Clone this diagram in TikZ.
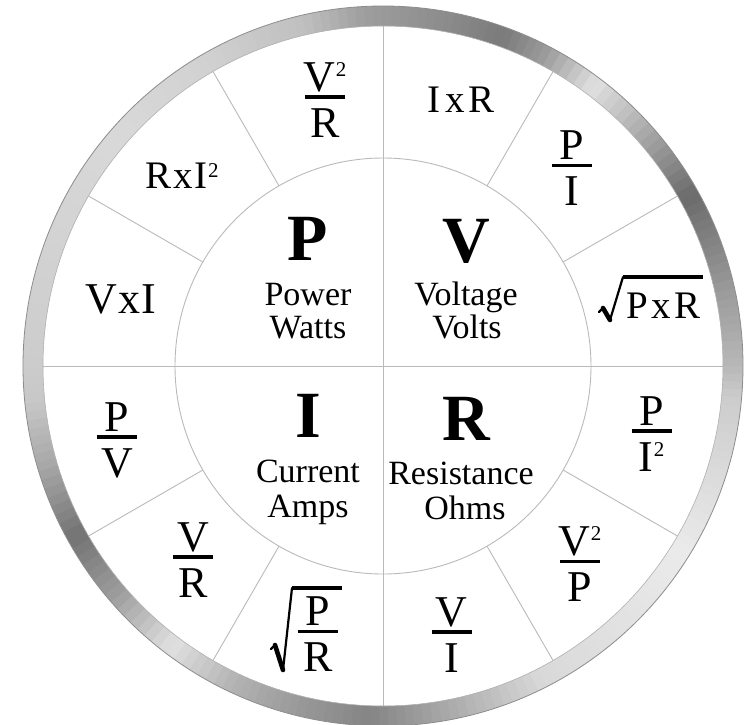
\documentclass[tikz,border=0pt]{standalone}
\usepackage{fontspec}
\setmainfont{Liberation Serif}
\newcommand\suptwo[1]{\kern0.5pt\raisebox{#1}{\fontsize{21}{21}\selectfont 2}}
\tikzset{
  big/.style={font=\fontsize{66}{66}\selectfont\bfseries, anchor=base, inner sep=0pt},
  lab/.style={font=\fontsize{34}{34}\selectfont, anchor=base, inner sep=0pt},
  frm/.style={font=\fontsize{39}{39}\selectfont, anchor=base, inner sep=0pt},
  fnum/.style={font=\fontsize{44}{44}\selectfont, anchor=base, inner sep=0pt},
  fbar/.style={line width=3.6pt},
  spoke/.style={draw=black!27, line width=0.9pt},
  radthin/.style={line width=2.2pt, line cap=round, line join=round},
  radthick/.style={line width=4.6pt, line cap=round},
}
\newcommand\ffrac[5]{%
  \node[fnum] (#1n) at (#2,#3+6) {#4};
  \coordinate (#1l) at (#2-20,#3);
  \coordinate (#1r) at (#2+20,#3);
  \draw[fbar] (#1l) -- (#1r);
  \node[fnum] (#1d) at (#2,#3-40) {#5};}
\begin{document}
\begin{tikzpicture}[x=1pt,y=1pt]
\fill[white] (-383,-358) rectangle (369,366);
\useasboundingbox (-383,-358) rectangle (369,366);
% metallic ring
\foreach \a/\ga/\b/\gb in {-180/.80/-174/.78, -174/.78/-163/.65, -163/.65/-151/.45,
  -151/.45/-139/.62, -139/.62/-127/.88, -127/.88/-115/.70, -115/.70/-104/.60,
  -104/.60/-92/.52, -92/.52/-85/.60, -85/.60/-63/.85, -63/.85/-32/.92,
  -32/.92/-5/.80, -5/.80/0/.72, 0/.72/11/.62, 11/.62/29/.42, 29/.42/41/.65,
  41/.65/53/.88, 53/.88/62/.62, 62/.62/70/.48, 70/.48/80/.55, 80/.55/93/.62,
  93/.62/103/.75, 103/.75/120/.82, 120/.82/139/.85, 139/.85/164/.82, 164/.82/180/.80}{
  \pgfmathsetmacro\n{int(ceil(abs(\b-\a)/1.5))}
  \foreach \i in {1,...,\n}{
    \pgfmathsetmacro\s{\a+(\i-1)*(\b-\a)/\n}
    \pgfmathsetmacro\e{\a+\i*(\b-\a)/\n+0.4}
    \pgfmathsetmacro\g{\ga+(\gb-\ga)*(\i-0.5)/\n}
    \definecolor{ringc}{gray}{\g}
    \fill[ringc] (\s:340) arc[start angle=\s,end angle=\e,radius=340]
      -- (\e:360) arc[start angle=\e,end angle=\s,radius=360] -- cycle;
  }
}
\draw[black!45, line width=0.8pt] (0,0) circle[radius=360];
\draw[black!30, line width=0.6pt] (0,0) circle[radius=340];
% divisions
\coordinate (c) at (0,0);
\draw[spoke] (c) circle[radius=208];
\draw[spoke] (0,340) -- (0,-340);
\draw[spoke] (-340,0) -- (340,0);
\foreach \k in {30,60,120,150,210,240,300,330}{
  \draw[spoke] (\k:208) -- (\k:340);
}
% centre quantities
\node[big] (P) at (-75,106) {P};
\node[lab] (Pw) at (-75,61) {Power};
\node[lab] (Pu) at (-75,28) {Watts};
\node[big] (V) at (83,104) {V};
\node[lab] (Vw) at (83,61) {Voltage};
\node[lab] (Vu) at (84,28) {Volts};
\node[big] (I) at (-75,-71) {I};
\node[lab] (Iw) at (-75,-116) {Current};
\node[lab] (Iu) at (-75,-151) {Amps};
\node[big] (R) at (83,-74) {R};
\node[lab] (Rw) at (78,-118) {Resistance};
\node[lab] (Ru) at (82,-153) {Ohms};
% formulas
\node[frm] (ixr) at (78,254) {I\kern5pt x\kern4pt R};
\node[frm] (rxi) at (-201,178) {R\kern2pt x\kern2pt I\suptwo{11pt}};
\node[fnum] (vxi) at (-262,53) {V\kern1pt x\kern1pt I};
\node[frm] (pxr) at (280.5,48) {P\kern3pt x\kern3pt R};
\coordinate (r1a) at (216,54);
\coordinate (r1b) at (220,58);
\coordinate (r1c) at (227,46);
\coordinate (r1d) at (240,89);
\coordinate (r1e) at (320,89);
\draw[radthin] (r1a) -- (r1b);
\draw[radthick] (r1b) -- (r1c);
\draw[radthin] (r1c) -- (r1d);
\draw[fbar] (r1d) -- (r1e);
\ffrac{vr}{-58}{269}{V\suptwo{15pt}}{R}
\ffrac{pi}{189}{200.5}{P}{I}
\ffrac{pv}{-266}{-71}{P}{V}
\ffrac{vrb}{-189.5}{-191}{V}{R}
\ffrac{pr}{-65}{-265.5}{P}{R}
\ffrac{pii}{268.5}{-65}{P}{I\suptwo{15pt}}
\ffrac{vp}{197}{-195.5}{V\suptwo{15pt}}{P}
\ffrac{vi}{68.5}{-266}{V}{I}
\coordinate (r2a) at (-112,-283);
\coordinate (r2b) at (-108,-279);
\coordinate (r2c) at (-100,-304);
\coordinate (r2d) at (-91,-222);
\coordinate (r2e) at (-41,-222);
\draw[radthin] (r2a) -- (r2b);
\draw[radthick] (r2b) -- (r2c);
\draw[radthin] (r2c) -- (r2d);
\draw[fbar] (r2d) -- (r2e);
\end{tikzpicture}
\end{document}
